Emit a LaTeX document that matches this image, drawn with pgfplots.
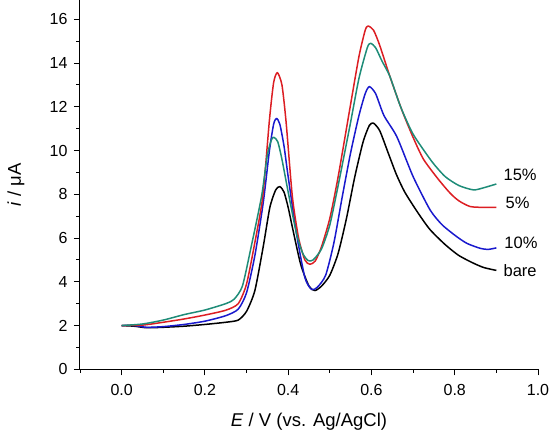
\documentclass[border=0pt]{standalone}
\usepackage{pgfplots}
\pgfplotsset{compat=1.18}
\usepackage{fontspec}
\setmainfont{Liberation Sans}

\definecolor{cbare}{RGB}{0,0,0}
\definecolor{cfive}{RGB}{220,30,35}
\definecolor{cten}{RGB}{25,25,205}
\definecolor{cfifteen}{RGB}{30,140,120}

\begin{document}
\begin{tikzpicture}
\useasboundingbox (-80pt,-72.7pt) rectangle (480pt,369.3pt);
\begin{axis}[
  at={(0,0)}, anchor=south west,
  scale only axis,
  width=458pt, height=369.3pt,
  xmin=-0.1, xmax=1.0,
  ymin=0, ymax=16.88,
  axis lines*=left,
  axis line style={line width=1pt},
  tick align=outside,
  major tick length=6pt,
  minor tick length=3.5pt,
  every tick/.style={line width=0.9pt, black},
  xtick={0,0.2,...,1.0},
  minor xtick={-0.1,0.1,0.3,0.5,0.7,0.9},
  ytick={0,2,...,16},
  minor ytick={1,3,...,15},
  /pgf/number format/assume math mode=true,
  tick label style={font=\fontsize{16}{19}\selectfont},
  yticklabel style={xshift=-3pt},
  xticklabel style={yshift=-5pt, /pgf/number format/.cd, fixed, fixed zerofill, precision=1},
  label style={font=\fontsize{18.5}{22}\selectfont},
  xlabel={\textit{E} / V (vs. Ag/AgCl)},
  ylabel={\textit{i} / μA},
  xlabel style={at={(axis description cs:0.5,0)}, anchor=north, yshift=-40pt},
  ylabel style={at={(axis description cs:0,0.5)}, anchor=south, yshift=52pt},
  clip=false,
  every axis plot/.append style={line width=1.5pt, line join=round},
]
% bare electrode
\addplot[cbare, smooth, tension=0.4] coordinates {
(0.00,2.00) (0.03,1.97) (0.06,1.90) (0.10,1.92) (0.15,1.97) (0.20,2.05)
(0.25,2.15) (0.28,2.25) (0.30,2.65) (0.32,3.6) (0.34,5.6) (0.356,7.4)
(0.37,8.2) (0.38,8.35) (0.39,8.1) (0.40,7.4) (0.41,6.5) (0.43,4.8)
(0.45,3.8) (0.464,3.6) (0.48,3.8) (0.50,4.3) (0.52,5.3) (0.54,6.9)
(0.56,8.8) (0.58,10.4) (0.595,11.15) (0.605,11.25) (0.62,10.9) (0.64,9.9)
(0.66,8.9) (0.68,8.1) (0.71,7.2) (0.74,6.4) (0.777,5.7) (0.81,5.2)
(0.845,4.85) (0.87,4.65) (0.90,4.52)};
% 10%
\addplot[cten, smooth, tension=0.4] coordinates {
(0.00,2.00) (0.03,2.00) (0.06,1.92) (0.10,1.95) (0.15,2.05) (0.20,2.2)
(0.25,2.45) (0.28,2.75) (0.30,3.5) (0.32,5.2) (0.34,7.6) (0.355,10.0)
(0.365,11.2) (0.372,11.47) (0.38,11.2) (0.39,10.2) (0.40,8.8) (0.42,6.2)
(0.44,4.2) (0.456,3.65) (0.47,3.75) (0.49,4.3) (0.51,5.8) (0.53,7.9)
(0.55,9.9) (0.57,11.6) (0.585,12.6) (0.595,12.92) (0.61,12.6) (0.63,11.6)
(0.661,10.63) (0.70,8.81) (0.741,7.28) (0.77,6.6) (0.805,6.06) (0.83,5.75)
(0.861,5.53) (0.88,5.48) (0.90,5.55)};
% 5%
\addplot[cfive, smooth, tension=0.4] coordinates {
(0.00,2.00) (0.05,2.02) (0.10,2.15) (0.15,2.3) (0.20,2.48) (0.25,2.7)
(0.28,3.0) (0.30,3.9) (0.32,5.8) (0.339,7.9) (0.355,11.4) (0.365,13.1)
(0.374,13.56) (0.385,13.0) (0.395,11.3) (0.41,7.9) (0.425,6.0) (0.44,5.0)
(0.452,4.8) (0.465,4.95) (0.48,5.6) (0.50,6.9) (0.52,8.8) (0.548,11.9)
(0.57,14.3) (0.585,15.5) (0.592,15.69) (0.605,15.5) (0.62,14.8) (0.644,13.4)
(0.673,11.85) (0.70,10.6) (0.725,9.6) (0.76,8.7) (0.789,8.05) (0.81,7.7)
(0.837,7.44) (0.87,7.40) (0.90,7.40)};
% 15%
\addplot[cfifteen, smooth, tension=0.4] coordinates {
(0.00,2.00) (0.05,2.07) (0.10,2.25) (0.15,2.5) (0.20,2.71) (0.25,3.0)
(0.27,3.2) (0.29,3.8) (0.31,5.5) (0.336,7.9) (0.35,9.8) (0.36,10.5)
(0.366,10.6) (0.375,10.4) (0.385,9.6) (0.40,8.1) (0.42,6.2) (0.435,5.3)
(0.448,4.97) (0.46,5.0) (0.48,5.5) (0.50,6.6) (0.52,8.4) (0.548,11.1)
(0.57,13.3) (0.59,14.7) (0.598,14.9) (0.61,14.7) (0.625,14.1) (0.644,13.4)
(0.67,12.0) (0.70,10.75) (0.745,9.5) (0.777,8.81) (0.81,8.4) (0.845,8.2)
(0.87,8.3) (0.90,8.47)};
\node[anchor=west, font=\fontsize{16.5}{20}\selectfont, inner sep=0pt] at (axis cs:0.917,8.87) {15\%};
\node[anchor=west, font=\fontsize{16.5}{20}\selectfont, inner sep=0pt] at (axis cs:0.922,7.6) {5\%};
\node[anchor=west, font=\fontsize{16.5}{20}\selectfont, inner sep=0pt] at (axis cs:0.919,5.77) {10\%};
\node[anchor=west, font=\fontsize{16.5}{20}\selectfont, inner sep=0pt] at (axis cs:0.917,4.49) {bare};
\end{axis}
\end{tikzpicture}
\end{document}
